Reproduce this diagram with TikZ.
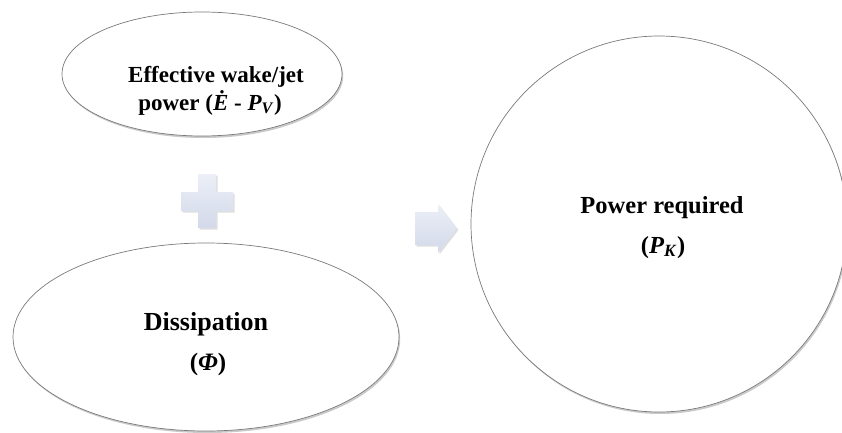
\documentclass[tikz,border=0pt]{standalone}
\usepackage{fontspec}
\setmainfont{Liberation Serif}
\usetikzlibrary{shapes.geometric,shadows}
\definecolor{edgegray}{HTML}{7A7A7A}
\definecolor{symtop}{HTML}{ECEFF7}
\definecolor{symbot}{HTML}{D3D9EA}
\tikzset{
  bubble/.style={draw=edgegray, line width=0.7pt, fill=white, inner sep=0pt,
    drop shadow={shadow xshift=1.2pt, shadow yshift=-2pt, opacity=0.35, fill=black!60}},
  lbl/.style={anchor=base, inner sep=0pt, text=black, font=\bfseries},
  sym/.style={top color=symtop, bottom color=symbot, draw=none,
    drop shadow={shadow xshift=1.5pt, shadow yshift=-1.5pt, opacity=0.25, fill=black!50}}
}
\begin{document}
\begin{tikzpicture}[x=1pt,y=1pt]
\useasboundingbox (0,0) rectangle (842,432);
% shapes
\node[bubble, ellipse, minimum width=280pt, minimum height=124pt] (wake) at (202,358) {};
\node[bubble, ellipse, minimum width=386pt, minimum height=188pt] (diss) at (206,95) {};
\node[bubble, circle, minimum size=376pt] (req) at (659,208) {};
% labels
\node[lbl, font=\bfseries\fontsize{23}{27}\selectfont] (wake1) at (216,349) {Effective wake/jet};
\node[lbl, font=\bfseries\fontsize{23}{27}\selectfont] (wake2) at (210,322) {power (\textit{Ė} - \textit{P}\textsubscript{\textit{V}})};
\node[lbl, font=\bfseries\fontsize{26}{30}\selectfont] (diss1) at (206,102) {Dissipation};
\node[lbl, font=\bfseries\fontsize{25}{30}\selectfont] (diss2) at (208,62) {(\textit{Φ})};
\node[lbl, font=\bfseries\fontsize{24.5}{30}\selectfont] (req1) at (662,219) {Power required};
\node[lbl, font=\bfseries\fontsize{24.5}{30}\selectfont] (req2) at (663,179) {(\textit{P}\textsubscript{\textit{K}})};
% plus sign
\path[sym] (198,204) -- (216,204) -- (216,221) -- (233,221) -- (233,240) -- (216,240)
  -- (216,258) -- (198,258) -- (198,240) -- (181,240) -- (181,221) -- (198,221) -- cycle;
% arrow
\path[sym] (415,187) -- (438,187) -- (438,179) -- (457,203.5) -- (438,228) -- (438,220)
  -- (415,220) -- cycle;
\end{tikzpicture}
\end{document}
